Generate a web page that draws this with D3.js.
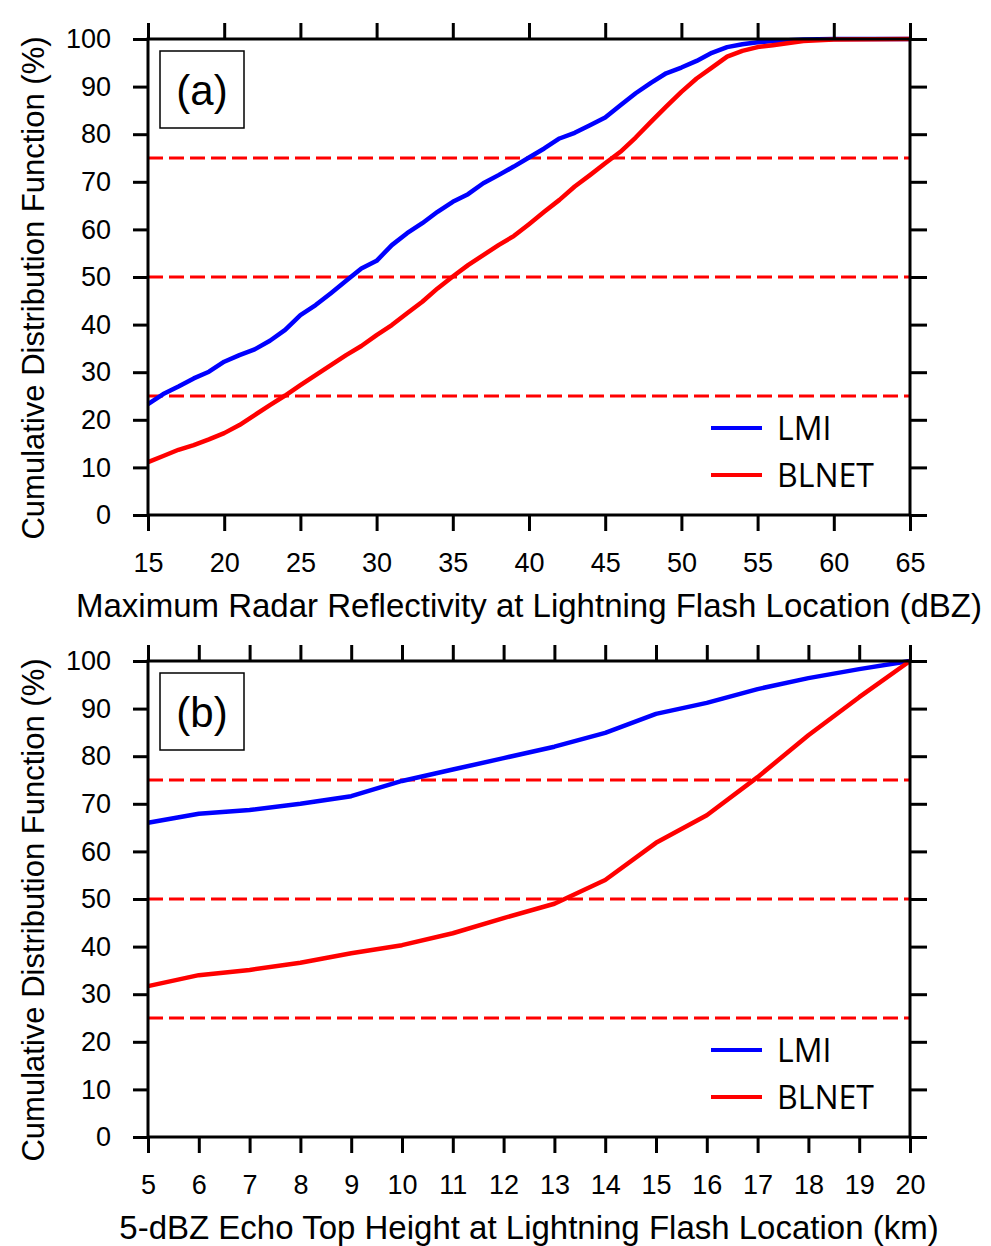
<!DOCTYPE html>
<html>
<head>
<meta charset="utf-8">
<script src="https://d3js.org/d3.v7.min.js"></script>
<style>
  body { margin: 0; background: #fff; }
  svg text { font-family: "Liberation Sans", Arial, Helvetica, sans-serif; fill: #000; }
</style>
</head>
<body>
<div id="chart"></div>
<script>
// panel (a): maximum radar reflectivity (dBZ)
var refl = [15,16,17,18,19,20,21,22,23,24,25,26,27,28,29,30,31,32,33,34,35,36,37,38,39,40,
            41,42,43,44,45,46,47,48,49,50,51,52,53,54,55,56,58,60,65];
var lmiA = [23.3,25.4,27.0,28.7,30.1,32.2,33.6,34.8,36.6,38.9,42.0,44.1,46.6,49.2,51.8,53.4,56.7,59.2,61.3,63.7,65.8,67.4,69.7,71.4,73.2,75.1,
            77.0,79.1,80.3,81.9,83.5,86.1,88.6,90.8,92.8,94.0,95.4,97.1,98.3,98.9,99.3,99.6,99.9,100,100];
var blnetA = [11.1,12.4,13.7,14.7,15.9,17.2,18.9,21.0,23.1,25.1,27.3,29.4,31.5,33.6,35.5,37.8,39.9,42.4,44.8,47.6,50.1,52.5,54.6,56.7,58.6,61.1,
              63.7,66.2,69.0,71.4,73.9,76.3,79.3,82.6,85.8,88.9,91.7,94.0,96.3,97.5,98.3,98.7,99.6,99.9,100];

// panel (b): 5-dBZ echo top height (km)
var height = [5,6,7,8,9,10,11,12,13,14,15,16,17,18,19,20];
var lmiB = [66.0,67.9,68.7,70.0,71.6,74.8,77.2,79.6,82.0,84.9,88.9,91.2,94.1,96.4,98.3,100];
var blnetB = [31.7,34.0,35.1,36.6,38.6,40.3,42.8,46.0,49.0,54.0,61.8,67.6,75.6,84.4,92.4,100];

var yTicks = [0,10,20,30,40,50,60,70,80,90,100];
var xTicksA = [15,20,25,30,35,40,45,50,55,60,65];
var xTicksB = height;
var refLevels = [25,50,75];
var seriesNames = ["LMI","BLNET"];
var seriesColors = ["#0000ff","#ff0000"];

var W = 991, H = 1246;
var svg = d3.select("#chart").append("svg").attr("width", W).attr("height", H);

function panel(cfg) {
  var x = d3.scaleLinear().domain(cfg.xDomain).range([148, 910]);
  var y = d3.scaleLinear().domain([0, 100]).range([cfg.top + 476, cfg.top]);
  var g = svg.append("g");

  // dashed quartile lines
  g.selectAll("line.ref").data(refLevels).enter().append("line")
    .attr("class", "ref")
    .attr("x1", x.range()[0]).attr("x2", x.range()[1])
    .attr("y1", function(d){ return y(d); }).attr("y2", function(d){ return y(d); })
    .attr("stroke", "#ff0000").attr("stroke-width", 3)
    .attr("stroke-dasharray", "15,6");

  var line = d3.line()
    .x(function(d){ return x(d[0]); })
    .y(function(d){ return y(d[1]); });

  cfg.series.forEach(function(s, i){
    g.append("path")
      .datum(cfg.xs.map(function(v, j){ return [v, s[j]]; }))
      .attr("d", line)
      .attr("fill", "none")
      .attr("stroke", seriesColors[i])
      .attr("stroke-width", 4.5)
      .attr("stroke-linejoin", "round");
  });

  // axes, ticks outward on all four sides
  function styleAxis(sel) {
    sel.select(".domain").remove();
    sel.selectAll(".tick line").attr("stroke", "#000").attr("stroke-width", 3);
    sel.selectAll(".tick text").style("font-size", "27px");
  }
  g.append("g").attr("transform", "translate(148,0)")
    .call(d3.axisLeft(y).tickValues(yTicks).tickSize(15).tickPadding(22))
    .call(styleAxis);
  g.append("g").attr("transform", "translate(910,0)")
    .call(d3.axisRight(y).tickValues(yTicks).tickSize(17).tickFormat(""))
    .call(styleAxis);
  g.append("g").attr("transform", "translate(0," + y(0) + ")")
    .call(d3.axisBottom(x).tickValues(cfg.xTicks).tickSize(16).tickPadding(22))
    .call(styleAxis);
  g.append("g").attr("transform", "translate(0," + y(100) + ")")
    .call(d3.axisTop(x).tickValues(cfg.xTicks).tickSize(16).tickFormat(""))
    .call(styleAxis);

  g.append("rect")
    .attr("x", 148).attr("y", y(100))
    .attr("width", 762).attr("height", y(0) - y(100))
    .attr("fill", "none").attr("stroke", "#000").attr("stroke-width", 3);

  // panel label box
  g.append("rect")
    .attr("x", 160).attr("y", y(100) + 12).attr("width", 84).attr("height", 77)
    .attr("fill", "#fff").attr("stroke", "#000").attr("stroke-width", 1.5);
  g.append("text")
    .attr("x", 202).attr("y", y(100) + 66)
    .attr("text-anchor", "middle")
    .style("font-size", "42px")
    .text(cfg.label);

  // axis titles
  g.append("text")
    .attr("x", 529).attr("y", y(0) + 102)
    .attr("text-anchor", "middle")
    .style("font-size", "33px")
    .text(cfg.xTitle);
  g.append("text")
    .attr("transform", "translate(44," + ((y(0) + y(100)) / 2 + 11) + ") rotate(-90)")
    .attr("text-anchor", "middle")
    .style("font-size", "31px")
    .text("Cumulative Distribution Function (%)");

  // legend
  var leg = g.selectAll("g.leg").data(seriesNames).enter().append("g")
    .attr("class", "leg")
    .attr("transform", function(d, i){ return "translate(711," + (y(0) - 87 + i * 47) + ")"; });
  leg.append("line")
    .attr("x1", 0).attr("x2", 51)
    .attr("stroke", function(d, i){ return seriesColors[i]; })
    .attr("stroke-width", 4);
  leg.append("text")
    .attr("x", 66).attr("y", 12)
    .style("font-family", "'Open Sans', 'Noto Sans', sans-serif")
    .style("font-size", "32px")
    .text(function(d){ return d; });
}

panel({ top: 39, xDomain: [15, 65], xTicks: xTicksA, xs: refl, series: [lmiA, blnetA],
        label: "(a)", xTitle: "Maximum Radar Reflectivity at Lightning Flash Location (dBZ)" });
panel({ top: 661, xDomain: [5, 20], xTicks: xTicksB, xs: height, series: [lmiB, blnetB],
        label: "(b)", xTitle: "5-dBZ Echo Top Height at Lightning Flash Location (km)" });
</script>
</body>
</html>
